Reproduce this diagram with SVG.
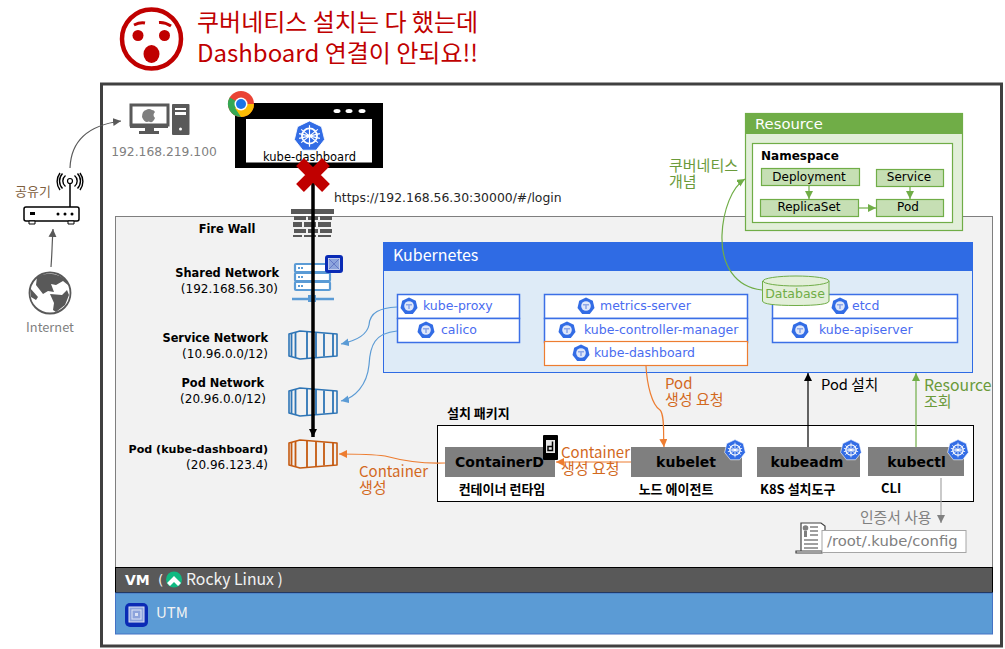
<svg xmlns="http://www.w3.org/2000/svg" xmlns:xlink="http://www.w3.org/1999/xlink" width="1005" height="649" viewBox="0 0 1005 649">
<style>
text{font-family:"DejaVu Sans","Noto Sans CJK KR",sans-serif;font-size:12px;fill:#000}
.k{font-family:"Noto Sans CJK KR","DejaVu Sans",sans-serif}
.b{font-weight:bold;font-size:11.400px}
.kb{font-family:"Noto Sans CJK KR","DejaVu Sans",sans-serif;font-weight:bold;font-size:13px}
.blue{fill:#4a6cf0;font-size:12.500px}
.org{fill:#d2691e;font-size:15px;font-family:"Noto Sans CJK KR","DejaVu Sans",sans-serif}
.grn{fill:#6a9a3a;font-size:15px;font-family:"Noto Sans CJK KR","DejaVu Sans",sans-serif}
.ctr{text-anchor:middle}
.end{text-anchor:end}
.pkg{fill:#7f7f7f}
.pkt{font-size:14px;font-weight:bold;text-anchor:middle}
.box{fill:#fff;stroke:#3b6fe6;stroke-width:1.500}
.res{fill:#c6dfb4;stroke:#70ad47;stroke-width:1.200}
.line{fill:none;stroke-width:1.200}
</style>
<defs>
<marker id="ag" markerWidth="10" markerHeight="10" refX="8" refY="4" orient="auto" markerUnits="userSpaceOnUse"><path d="M0 0L8 4L0 8Z" fill="#595959"/></marker>
<marker id="ab" markerWidth="10" markerHeight="10" refX="8" refY="4" orient="auto" markerUnits="userSpaceOnUse"><path d="M0 0L8 4L0 8Z" fill="#5b9bd5"/></marker>
<marker id="ao" markerWidth="10" markerHeight="10" refX="8" refY="4" orient="auto" markerUnits="userSpaceOnUse"><path d="M0 0L8 4L0 8Z" fill="#ed7d31"/></marker>
<marker id="an" markerWidth="10" markerHeight="10" refX="8" refY="4" orient="auto" markerUnits="userSpaceOnUse"><path d="M0 0L8 4L0 8Z" fill="#70ad47"/></marker>
<marker id="ak" markerWidth="10" markerHeight="10" refX="8" refY="4" orient="auto" markerUnits="userSpaceOnUse"><path d="M0 0L8 4L0 8Z" fill="#000"/></marker>
<marker id="ay" markerWidth="10" markerHeight="10" refX="8" refY="4" orient="auto" markerUnits="userSpaceOnUse"><path d="M0 0L8 4L0 8Z" fill="#808080"/></marker>
<symbol id="k8s" viewBox="0 0 36 36" overflow="visible">
<path d="M18 1L31.500 7.500L35 22L25.500 34L10.500 34L1 22L4.500 7.500Z" fill="#326ce5" stroke="#fff" stroke-width="1"/>
<circle cx="18" cy="18" r="8.500" fill="none" stroke="#fff" stroke-width="2"/>
<circle cx="18" cy="18" r="2" fill="#fff"/>
<path d="M18 6V30M8.600 10.500L27.400 25.500M27.400 10.500L8.600 25.500M6.300 20.700L29.700 15.300M29.700 20.700L6.300 15.300" stroke="#fff" stroke-width="1.300"/>
</symbol>
<symbol id="kc" viewBox="0 0 18 18" overflow="visible">
<path d="M9 0.500L15.800 3.800L17.500 11L12.800 17L5.200 17L0.500 11L2.200 3.800Z" fill="#326ce5"/>
<circle cx="9" cy="9" r="4.800" fill="#dfe7fa"/><path d="M6 7H12V8.500H9.800V12H8.200V8.500H6Z" fill="#8fa8e8"/>
</symbol>
<symbol id="cont" viewBox="0 0 50 30" overflow="visible">
<path d="M1 4L12 1L49 4V26L12 29L1 26Z" fill="none" stroke="currentColor" stroke-width="1.600" stroke-linejoin="round"/>
<path d="M3.500 3V27M7.500 2V28M19 2V28M28 3V27M36 3.500V26.500M45 4V26" fill="none" stroke="currentColor" stroke-width="1.800"/>
</symbol>
</defs>

<g id="alert">
<circle cx="151.500" cy="39" r="29.500" fill="none" stroke="#c00000" stroke-width="4.500"/>
<circle cx="138" cy="35.500" r="5.500" fill="#c00000"/><circle cx="164.500" cy="35.500" r="5.500" fill="#c00000"/>
<ellipse cx="151.500" cy="54" rx="8" ry="9" fill="#c00000"/>
<path d="M134 25Q140 22 145 23M159 22.500Q165 22 171 26" fill="none" stroke="#c00000" stroke-width="3"/>
<text class="k" x="197" y="31" style="font-size:24px;fill:#c00000">쿠버네티스 설치는 다 했는데</text>
<text class="k" x="197" y="62" style="font-size:24px;fill:#c00000">Dashboard 연결이 안되요!!</text>
</g>

<rect id="frame" x="101.500" y="84" width="900" height="562" fill="#fff" stroke="#404040" stroke-width="3"/>
<rect id="panel" x="115.500" y="216.500" width="877" height="352" fill="#f2f2f2" stroke="#7f7f7f"/>

<g id="vm"><rect x="115.500" y="567.500" width="877" height="25" fill="#595959" stroke="#000"/>
<text x="125" y="585" style="font-size:14px;fill:#fff;font-weight:bold">VM</text><text x="158" y="585" style="font-size:14px;fill:#f2f2f2">(</text>
<circle cx="174" cy="579.500" r="8" fill="#10b981"/><path d="M167 583L174 576L181 583L178 586L174 582L170 586Z" fill="#fff"/>
<text class="k" x="186" y="585" style="font-size:15.800px;fill:#f2f2f2">Rocky Linux )</text></g>
<g id="utm"><rect x="115.500" y="593" width="877" height="41" fill="#5b9bd5" stroke="#4472c4" stroke-width="1"/>
<rect x="125" y="603" width="23" height="24" rx="5" fill="#0a2bb5"/><rect x="129" y="607" width="15" height="15" fill="#8da4dc" stroke="#dbe3f6"/><rect x="132" y="610" width="9" height="9" fill="none" stroke="#dbe3f6"/><rect x="135" y="613" width="3" height="3" fill="#dbe3f6"/>
<text class="k" x="156" y="618" style="font-size:15px;fill:#f2f2f2">UTM</text></g>

<g id="internet"><circle cx="50" cy="293" r="20.500" fill="#fff" stroke="#595959" stroke-width="1.800"/><path d="M37 277Q47 271 60 276L63 281L56 285L51 284L54 292L48 291L43 294L36 285ZM30 288L38 297L36 300L31 297ZM50 294L62 295L67 290L69 295L65 305L56 312L53 310L54 303ZM60 276L66 280L68 285L63 281Z" fill="#595959"/>
<text x="50" y="332" class="ctr k" style="fill:#7f7f7f;font-size:12.800px">Internet</text></g>
<g id="router"><rect x="24" y="207" width="55" height="14" rx="2" fill="#fff" stroke="#000" stroke-width="1.500"/><rect x="30" y="212" width="5" height="3" fill="#000"/><circle cx="58" cy="214" r="1.500"/><circle cx="65" cy="214" r="1.500"/><circle cx="72" cy="214" r="1.500"/><path d="M29 221h6v3h-6zM68 221h6v3h-6z" fill="#fff" stroke="#000"/>
<path d="M70 207V183" stroke="#000" stroke-width="1.500"/><circle cx="70" cy="181" r="2.500" fill="none" stroke="#000" stroke-width="1.200"/>
<path d="M65.500 175.500a7 7 0 0 0 0 11M74.500 175.500a7 7 0 0 1 0 11M62.500 173.500a11 11 0 0 0 0 15M77.500 173.500a11 11 0 0 1 0 15M60 173a14 14 0 0 0 0 17M80 173a14 14 0 0 1 0 17" fill="none" stroke="#000" stroke-width="1.400"/>
<text class="k" x="15" y="196" style="fill:#7f5f3f;font-size:13px">공유기</text></g>
<g id="mac"><path d="M131 105h37v20h-37z" fill="#fff" stroke="#595959" stroke-width="3"/><path d="M130 125h38v3h-38zM145 128h9v3h-9zM139 131h20v3h-20z" fill="#595959"/><path d="M146 110q3-2 6 0q2 0 3 2q-3 3 0 6q-2 5-5 4q-1-1-3 0q-3 0-5-5q0-6 4-7z" fill="#7f7f7f"/><rect x="172" y="104" width="17.500" height="31" rx="1" fill="#595959"/><path d="M175 108h11v2h-11zM175 112h11v3h-11z" fill="#fff"/><circle cx="180.500" cy="129" r="1.500" fill="#fff"/>
<text x="164" y="156" class="ctr" style="fill:#808080;font-size:12.300px">192.168.219.100</text></g>

<g id="browser"><rect x="235" y="103" width="148" height="65" fill="#000"/><rect x="246" y="119" width="126" height="43.500" fill="#fff"/>
<ellipse cx="337" cy="111" rx="3.500" ry="2" fill="#fff"/><ellipse cx="349" cy="111" rx="3.500" ry="2" fill="#fff"/><ellipse cx="362" cy="111" rx="3.500" ry="2" fill="#fff"/>
<circle cx="241" cy="104" r="13" fill="#ea4335"/><path d="M241 104L229.700 97.500A13 13 0 0 0 241 117Z" fill="#34a853"/><path d="M241 104H254A13 13 0 0 1 241 117L235 108Z" fill="#fbbc05"/><circle cx="241" cy="104" r="6.500" fill="#fff"/><circle cx="241" cy="104" r="5" fill="#1a73e8"/>
<use xlink:href="#k8s" href="#k8s" x="293" y="120" width="33" height="32"/>
<text x="309.500" y="161" class="ctr" style="font-size:11.500px">kube-dashboard</text></g>

<g id="firewall"><rect x="291" y="209" width="43" height="5" fill="#595959"/><path d="M294 216h12v4h-12zM308 216h10v4h-10zM320 216h12v4h-12zM293 222h9v5h-9zM304 222h12v5h-12zM318 222h13v5h-13zM294 229h12v4h-12zM308 229h10v4h-10zM320 229h12v4h-12zM293 235h9v2h-9zM304 235h12v2h-12zM318 235h13v2h-13z" fill="#595959"/>
<text x="227" y="233" class="ctr b">Fire Wall</text></g>

<g id="shared"><text x="279" y="277" class="end b">Shared Network</text><text x="278" y="293" class="end">(192.168.56.30)</text>
<g fill="#fff" stroke="#5b9bd5" stroke-width="2.200"><rect x="295" y="264" width="35" height="8" rx="1"/><rect x="295" y="273" width="35" height="8" rx="1"/><rect x="295" y="282" width="35" height="8" rx="1"/></g>
<path d="M298 268h6M298 277h6M298 286h6" stroke="#5b9bd5" stroke-width="2" stroke-dasharray="2 1"/>
<path d="M312 291v6M292 299h42" stroke="#5b9bd5" stroke-width="2.500"/><rect x="308" y="295" width="8" height="7" fill="#5b9bd5"/>
<rect x="325" y="255" width="18" height="18" rx="3" fill="#0a2bb5"/><rect x="328.500" y="258.500" width="11" height="11" fill="#8da4dc" stroke="#dbe3f6" stroke-width=".8"/><path d="M329 259l10 10M339 259l-10 10" stroke="#5a6fc0" stroke-width=".8"/></g>

<g id="service"><text x="268" y="342" class="end b">Service Network</text><text x="268" y="358" class="end">(10.96.0.0/12)</text>
<use xlink:href="#cont" href="#cont" x="288" y="330" width="50" height="30" color="#2e75b6"/></g>
<g id="podnet"><text x="264" y="387" class="end b">Pod Network</text><text x="266" y="403" class="end">(20.96.0.0/12)</text>
<use xlink:href="#cont" href="#cont" x="288" y="387" width="50" height="30" color="#2e75b6"/></g>
<g id="podk"><text x="268" y="453" class="end b" style="font-size:11.100px">Pod (kube-dashboard)</text><text x="268" y="469" class="end">(20.96.123.4)</text>
<use xlink:href="#cont" href="#cont" x="288" y="439" width="50" height="30" color="#c55a11"/></g>

<g id="kubernetes"><rect x="383.500" y="242.500" width="589" height="130" fill="#deebf7" stroke="#2f6be4" stroke-width="1"/><rect x="383" y="242" width="590" height="29" fill="#2f6be4"/>
<text class="k" x="393" y="261" style="font-size:16px;fill:#fff">Kubernetes</text></g>

<g id="proxy"><rect class="box" x="397.500" y="294.500" width="122" height="24"/><use xlink:href="#kc" href="#kc" x="400" y="297" width="18" height="18"/><text class="blue" x="423" y="310">kube-proxy</text></g>
<g id="calico"><rect class="box" x="397.500" y="318.500" width="122" height="24"/><use xlink:href="#kc" href="#kc" x="417" y="321" width="18" height="18"/><text class="blue" x="441" y="334">calico</text></g>
<g id="metrics"><rect class="box" x="544.500" y="294.500" width="203" height="24"/><use xlink:href="#kc" href="#kc" x="577" y="297" width="18" height="18"/><text class="blue" x="600" y="310">metrics-server</text></g>
<g id="ctrlm"><rect class="box" x="544.500" y="318.500" width="203" height="24"/><use xlink:href="#kc" href="#kc" x="558" y="321" width="18" height="18"/><text class="blue" x="584" y="334">kube-controller-manager</text></g>
<g id="kdash"><rect x="544.500" y="341.500" width="203" height="24" fill="#fff" stroke="#ed7d31" stroke-width="1.200"/><use xlink:href="#kc" href="#kc" x="572" y="344" width="18" height="18"/><text class="blue" x="594" y="357">kube-dashboard</text></g>
<g id="etcd"><rect class="box" x="772.500" y="294.500" width="185" height="24"/><use xlink:href="#kc" href="#kc" x="831" y="297" width="18" height="18"/><text class="blue" x="852" y="310">etcd</text></g>
<g id="apis"><rect class="box" x="772.500" y="318.500" width="185" height="24"/><use xlink:href="#kc" href="#kc" x="791" y="321" width="18" height="18"/><text class="blue" x="819" y="334">kube-apiserver</text></g>
<g id="database"><path d="M762.500 281V301Q763 305.500 796 305.500Q829 305.500 829 301V281" fill="#e2efd9" stroke="#70ad47"/><ellipse cx="796" cy="281" rx="33" ry="5" fill="#e2efd9" stroke="#70ad47"/><text x="795" y="298" class="ctr" style="fill:#70ad47;font-size:12.500px">Database</text></g>

<g id="resource"><rect x="745.500" y="113.500" width="217" height="117" fill="#e2efd9" stroke="#70ad47" stroke-width="1.200"/><rect x="745" y="113" width="218" height="21" fill="#70ad47"/><text x="755" y="129" style="font-size:14.800px;fill:#fff">Resource</text>
<rect x="752.500" y="143.500" width="200" height="79" fill="#fff" stroke="#70ad47" stroke-width="1.200"/><text x="761" y="160" style="font-weight:bold">Namespace</text>
<g id="deploy"><rect class="res" x="761.500" y="168.500" width="98" height="17"/><text x="809" y="181" class="ctr">Deployment</text></g>
<g id="rs"><rect class="res" x="760.500" y="199.500" width="98" height="17"/><text x="809" y="211" class="ctr">ReplicaSet</text></g>
<g id="svc"><rect class="res" x="876.500" y="169.500" width="67" height="17"/><text x="909" y="181" class="ctr">Service</text></g>
<g id="pod"><rect class="res" x="876.500" y="199.500" width="67" height="17"/><text x="908" y="211" class="ctr">Pod</text></g></g>

<g id="package"><text x="447" y="418" class="kb">설치 패키지</text><rect x="437.500" y="425.500" width="536" height="76" fill="#fff" stroke="#000" stroke-width="1"/>
<g id="containerd"><rect class="pkg" x="445" y="447" width="110" height="30"/><text x="499.500" y="467" class="pkt">ContainerD</text>
<rect x="543" y="435" width="15" height="25" rx="1" fill="#000"/><rect x="546" y="440" width="9" height="13" fill="#e6e6e6"/><path d="M552.500 441.500V450.500H548V446.500H552.500" fill="none" stroke="#000" stroke-width="1.500"/>
<text x="502" y="494" class="ctr kb">컨테이너 런타임</text></g>
<g id="kubelet"><rect class="pkg" x="631" y="447" width="111" height="30"/><text x="686" y="467" class="pkt">kubelet</text><use xlink:href="#k8s" href="#k8s" x="724" y="439" width="22" height="22"/><text x="676" y="494" class="ctr kb">노드 에이전트</text></g>
<g id="kubeadm"><rect class="pkg" x="757" y="447" width="103" height="30"/><text x="807" y="467" class="pkt">kubeadm</text><use xlink:href="#k8s" href="#k8s" x="840" y="439" width="22" height="22"/><text x="760" y="494" class="kb">K8S 설치도구</text></g>
<g id="kubectl"><rect class="pkg" x="868" y="447" width="96" height="29"/><text x="916.500" y="467" class="pkt">kubectl</text><use xlink:href="#k8s" href="#k8s" x="947" y="439" width="22" height="22"/><text x="881" y="493" class="kb">CLI</text></g></g>

<g id="config"><path d="M801 523h20l4 3v25H801zM796 551h26v2h-26z" fill="#fff" stroke="#404040" stroke-width="1.200"/><circle cx="805.500" cy="528" r="2.800" fill="#7f7f7f"/><path d="M804 531v6h3v-6" fill="#7f7f7f"/><path d="M810 527h8M810 531h8M810 535h8M804 540h14M804 544h14M804 548h14" stroke="#404040"/>
<rect x="822" y="530.500" width="144" height="22" fill="#fff" stroke="#a6a6a6"/><text x="827" y="546" style="font-size:14.800px;fill:#808080">/root/.kube/config</text></g>

<g id="connectors">
<path class="line" d="M70 168C71 140 90 125 121 121" stroke="#595959" marker-end="url(#ag)"/>
<path class="line" d="M51 267C52 255 52 245 53 229" stroke="#595959" marker-end="url(#ag)"/>
<path d="M313 175V437" fill="none" stroke="#000" stroke-width="3.500" marker-end="url(#ak)"/>
<path d="M300 162L326 188M326 162L300 188" stroke="#c00000" stroke-width="11"/>
<path class="line" d="M397 307C380 308 370 312 369 325C367 335 355 341 341 344" stroke="#5b9bd5" marker-end="url(#ab)"/>
<path class="line" d="M397 331C375 333 370 345 369 365C367 385 355 398 341 401" stroke="#5b9bd5" marker-end="url(#ab)"/>
<path class="line" d="M646 366C647 385 652 405 660 410C665 415 663 435 664 447" stroke="#ed7d31" marker-end="url(#ao)"/>
<path class="line" d="M631 462H556" stroke="#ed7d31" stroke-width="1.500" marker-end="url(#ao)"/>
<path class="line" d="M445 463C420 464 400 460 385 456C370 454 355 454 339 454" stroke="#ed7d31" marker-end="url(#ao)"/>
<path class="line" d="M808 447V373" stroke="#000" stroke-width="1.500" marker-end="url(#ak)"/>
<path class="line" d="M916 447V373" stroke="#70ad47" stroke-width="1.500" marker-end="url(#an)"/>
<path class="line" d="M941 478V523" stroke="#a6a6a6" stroke-width="1.500" marker-end="url(#ay)"/>
<path class="line" d="M762 290C735 287 721 265 722 235C723 210 732 187 745 179" stroke="#70ad47" marker-end="url(#an)"/>
<path class="line" d="M809 186V199" stroke="#70ad47" marker-end="url(#an)"/>
<path class="line" d="M910 187V199" stroke="#70ad47" marker-end="url(#an)"/>
<path class="line" d="M859 208H876" stroke="#70ad47" marker-end="url(#an)"/>
</g>

<g id="labels">
<text x="334" y="202" style="font-size:12.400px;fill:#262626">https://192.168.56.30:30000/#/login</text>
<text class="grn" x="669" y="171">쿠버네티스</text><text class="grn" x="669" y="187">개념</text>
<text class="org" x="665" y="389">Pod</text><text class="org" x="665" y="405">생성 요청</text>
<text class="org" x="561" y="458">Container</text><text class="org" x="561" y="474">생성 요청</text>
<text class="org" x="359" y="477">Container</text><text class="org" x="359" y="493">생성</text>
<text x="821" y="390" class="k" style="font-size:14.700px">Pod 설치</text>
<text class="grn" x="924" y="391" style="font-size:15.800px">Resource</text><text class="grn" x="924" y="407">조회</text>
<text x="860" y="523" class="k" style="font-size:14.800px;fill:#808080">인증서 사용</text>
</g>
</svg>
